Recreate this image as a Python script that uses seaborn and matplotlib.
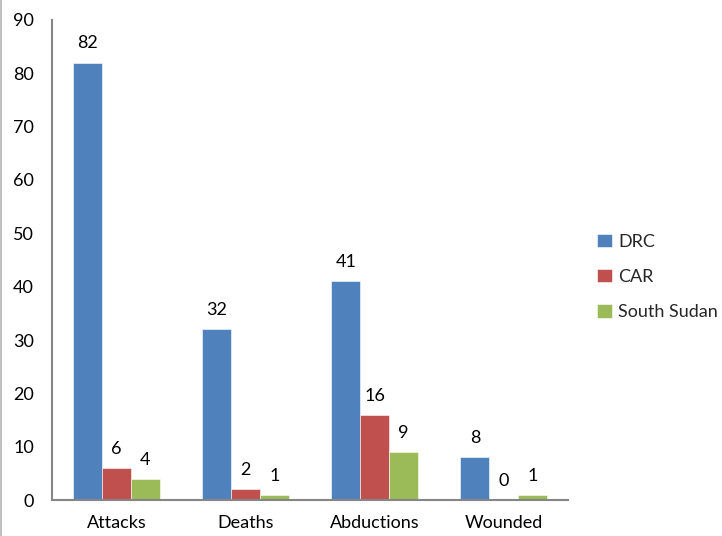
import matplotlib
matplotlib.use("Agg")
import matplotlib.pyplot as plt
import matplotlib.lines as mlines
import seaborn as sns
import pandas as pd

categories = ["Attacks", "Deaths", "Abductions", "Wounded"]
series = ["DRC", "CAR", "South Sudan"]
drc = [82, 32, 41, 8]
car = [6, 2, 16, 0]
south_sudan = [4, 1, 9, 1]
yticks = [0, 10, 20, 30, 40, 50, 60, 70, 80, 90]

colors = ["#4F81BD", "#C0504D", "#9BBB59"]

rows = []
for name, vals in zip(series, [drc, car, south_sudan]):
    for cat, v in zip(categories, vals):
        rows.append({"category": cat, "series": name, "value": v})
df = pd.DataFrame(rows)

sns.set_style("white")
plt.rcParams["font.family"] = ["Lato", "DejaVu Sans"]

fig = plt.figure(figsize=(7.22, 5.36), dpi=100)
ax = fig.add_axes([0.072, 0.067, 0.715, 0.896])

sns.barplot(data=df, x="category", y="value", hue="series", palette=colors,
            order=categories, hue_order=series, width=0.67, saturation=1,
            edgecolor="white", linewidth=0.4, ax=ax)

for cont in ax.containers:
    ax.bar_label(cont, padding=8, fontsize=13, color="black")

ax.set_ylim(0, 90)
ax.set_yticks(yticks)
ax.set_xlim(-0.5, 3.5)
ax.set_xlabel("")
ax.set_ylabel("")
ax.tick_params(axis="both", length=0, labelsize=13, colors="black")
ax.tick_params(axis="x", pad=11)
ax.tick_params(axis="y", pad=13)

for s in ["top", "right"]:
    ax.spines[s].set_visible(False)
for s in ["left", "bottom"]:
    ax.spines[s].set_color("#868686")
    ax.spines[s].set_linewidth(1.5)

ax.legend(loc="center left", bbox_to_anchor=(1.025, 0.465), frameon=False,
          fontsize=13, handlelength=0.8, handleheight=0.8, handletextpad=0.35,
          labelspacing=1.05)

# thin chart border at the left edge
fig.add_artist(mlines.Line2D([0.002, 0.002], [0, 1], color="#BFBFBF", linewidth=1.5))

fig.savefig("out.png", dpi=100)
